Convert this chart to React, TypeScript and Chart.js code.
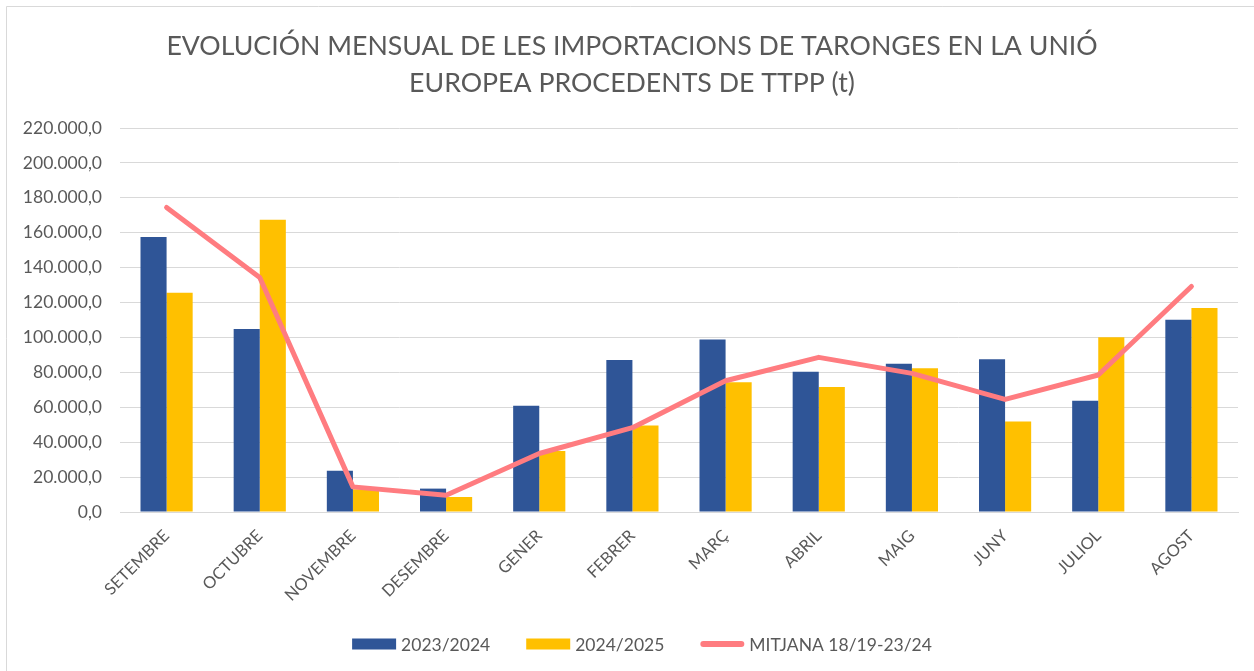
import React, { useEffect, useRef } from "react";
import { Chart, registerables } from "chart.js";

Chart.register(...registerables);

const titleLines = [
  "EVOLUCIÓN MENSUAL DE LES IMPORTACIONS DE TARONGES EN LA UNIÓ",
  "EUROPEA PROCEDENTS DE TTPP (t)",
];
const months = [
  "SETEMBRE", "OCTUBRE", "NOVEMBRE", "DESEMBRE", "GENER", "FEBRER",
  "MARÇ", "ABRIL", "MAIG", "JUNY", "JULIOL", "AGOST",
];
const series2324 = [157500, 104900, 23700, 13400, 60900, 87100, 98800, 80400, 85000, 87500, 63700, 110200];
const series2425 = [125600, 167400, 13000, 8600, 35000, 49600, 74300, 71600, 82300, 51900, 100100, 116900];
const mitjana = [174500, 134300, 14400, 9600, 33500, 48300, 75200, 88600, 79400, 64500, 78500, 129200];
const labelNames = ["2023/2024", "2024/2025", "MITJANA 18/19-23/24"];

const BLUE = "#2F5597";
const YELLOW = "#FFC000";
const PINK = "#FF7C80";
const TEXT = "#595959";
const GRID = "#D9D9D9";
const FONT = "Lato, 'Open Sans', sans-serif";

function fmt(v: number): string {
  const s = Math.round(v).toString().replace(/\B(?=(\d{3})+(?!\d))/g, ".");
  return s + ",0";
}

export default function App() {
  const ref = useRef<HTMLCanvasElement | null>(null);
  useEffect(() => {
    document.body.style.margin = "0";
    document.body.style.overflow = "hidden";
    const canvas = ref.current!;
    const framePlugin = {
      id: "frame",
      beforeDraw(chart: any) {
        const ctx = chart.ctx;
        ctx.save();
        ctx.fillStyle = "#FFFFFF";
        ctx.fillRect(0, 0, chart.width, chart.height);
        ctx.strokeStyle = GRID;
        ctx.lineWidth = 1;
        ctx.beginPath();
        ctx.moveTo(6.5, chart.height);
        ctx.lineTo(6.5, 6.5);
        ctx.lineTo(chart.width, 6.5);
        ctx.stroke();
        ctx.restore();
      },
      afterDraw(chart: any) {
        const ctx = chart.ctx;
        ctx.save();
        // title
        ctx.fillStyle = TEXT;
        ctx.textAlign = "center";
        ctx.textBaseline = "middle";
        ctx.font = `26.7px ${FONT}`;
        ctx.fillText(titleLines[0], 632, 46);
        ctx.fillText(titleLines[1], 632, 83);
        // legend
        ctx.font = `17.5px ${FONT}`;
        ctx.textAlign = "left";
        const boxW = 44;
        const gapText = 5;
        const gapItem = 36;
        const ds = chart.data.datasets;
        const widths = ds.map((d: any) => boxW + gapText + ctx.measureText(d.label).width);
        const total = widths.reduce((a: number, b: number) => a + b, 0) + gapItem * (ds.length - 1);
        let x = 642 - total / 2;
        const cy = 644;
        ds.forEach((d: any, i: number) => {
          if (d.type === "line") {
            ctx.strokeStyle = d.borderColor;
            ctx.lineWidth = 6;
            ctx.lineCap = "round";
            ctx.beginPath();
            ctx.moveTo(x + 3, cy);
            ctx.lineTo(x + boxW - 3, cy);
            ctx.stroke();
          } else {
            ctx.fillStyle = d.backgroundColor;
            ctx.fillRect(x, cy - 5.5, boxW, 11);
          }
          ctx.fillStyle = TEXT;
          ctx.fillText(d.label, x + boxW + gapText, cy + 1);
          x += widths[i] + gapItem;
        });
        ctx.restore();
      },
    };
    const chart = new Chart(canvas, {
      type: "bar",
      data: {
        labels: months,
        datasets: [
          {
            type: "bar",
            label: labelNames[0],
            data: series2324,
            backgroundColor: BLUE,
            order: 1,
          },
          {
            type: "bar",
            label: labelNames[1],
            data: series2425,
            backgroundColor: YELLOW,
            order: 1,
          },
          {
            type: "line",
            label: labelNames[2],
            data: mitjana,
            borderColor: PINK,
            backgroundColor: PINK,
            borderWidth: 5,
            pointRadius: 0,
            borderCapStyle: "round",
            borderJoinStyle: "round",
            tension: 0,
            order: 0,
          } as any,
        ],
      },
      options: {
        animation: false,
        responsive: false,
        devicePixelRatio: 1,
        layout: { padding: { left: 0, right: 16, top: 128, bottom: 67 } },
        datasets: {
          bar: { barPercentage: 1, categoryPercentage: 0.56 },
        } as any,
        plugins: {
          title: { display: false },
          legend: { display: false },
          tooltip: { enabled: false },
        },
        scales: {
          x: {
            grid: { display: false },
            border: { display: true, color: GRID, width: 1 },
            ticks: {
              color: TEXT,
              font: { family: FONT, size: 16.5 },
              minRotation: 45,
              maxRotation: 45,
              padding: 6,
            },
            afterFit: (s: any) => {
              s.height = 92;
            },
          },
          y: {
            min: 0,
            max: 220000,
            border: { display: false },
            grid: { color: GRID, lineWidth: 1, drawTicks: false },
            ticks: {
              stepSize: 20000,
              color: TEXT,
              font: { family: FONT, size: 17.5 },
              padding: 18,
              callback: (v: any) => fmt(Number(v)),
            },
            afterFit: (s: any) => {
              s.width = 120;
            },
          },
        },
      },
      plugins: [framePlugin],
    });
    return () => chart.destroy();
  }, []);
  return (
    <div style={{ position: "absolute", left: 0, top: 0, width: 1254, height: 671 }}>
      <canvas ref={ref} width={1254} height={671} style={{ display: "block" }} />
    </div>
  );
}
